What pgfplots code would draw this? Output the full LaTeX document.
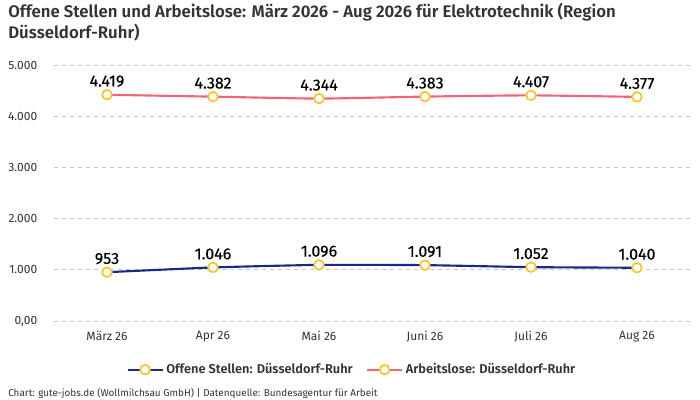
\documentclass[border=0pt]{standalone}
\usepackage{pgfplots}
\pgfplotsset{compat=1.18}
\usepackage{fontspec}
\setmainfont{Fira Sans}
\newfontfamily\titlefont{Fira Sans SemiBold}
\newfontfamily\legfont{Fira Sans SemiBold}
\definecolor{navy}{HTML}{1A2A84}
\definecolor{pinkline}{HTML}{F2647A}
\definecolor{gold}{HTML}{F7C52C}
\definecolor{txt}{HTML}{333333}
\begin{document}
\begin{tikzpicture}[x=0.75pt,y=0.75pt]
\path[use as bounding box] (0,0) rectangle (700,400);
% title
\node[anchor=north west, align=left, text=txt, font=\titlefont\fontsize{12.6}{15.5}\selectfont, inner sep=0pt]
  at (8,397) {Offene Stellen und Arbeitslose: März 2026 - Aug 2026 für Elektrotechnik (Region\\Düsseldorf-Ruhr)};
\begin{axis}[
    at={(40.5pt,59.25pt)}, anchor=south west,
    scale only axis, width=477pt, height=192pt,
    xmin=-0.5, xmax=5.5, ymin=0, ymax=5000,
    axis line style={draw=none},
    major tick length=0pt,
    xtick={0,...,5},
    xticklabels={März 26,Apr 26,Mai 26,Juni 26,Juli 26,Aug 26},
    ytick={0,1000,2000,3000,4000,5000},
    yticklabels={{0,00},{1.000},{2.000},{3.000},{4.000},{5.000}},
    ymajorgrids=true,
    grid style={dashed, gray!45, line width=0.6pt},
    tick label style={font=\fontsize{9}{10}\selectfont, text=txt},
    yticklabel style={xshift=-9pt},
    xticklabel style={yshift=-4pt},
    nodes near coords,
    point meta=explicit symbolic,
    every node near coord/.append style={font=\fontsize{12}{14}\selectfont\addfontfeature{FakeBold=0.3}, text=black, yshift=2pt},
    legend columns=2,
    legend style={at={(0.469,-0.19)}, anchor=center, draw=none, fill=none,
      font=\legfont\fontsize{9.6}{12}\selectfont, text=txt,
      /tikz/every even column/.append style={column sep=8pt}},
    legend image code/.code={
      \draw[#1, mark=none] (0cm,0cm) -- (0.92cm,0cm);
      \draw[#1, only marks] plot coordinates {(0.46cm,0cm)};
    },
  ]
\addplot[navy, line width=1.6pt, smooth, tension=0.3, mark=*, mark size=3.6pt,
  mark options={fill=white, draw=gold, line width=1.3pt}]
  coordinates {(0,953)[953] (1,1046)[1.046] (2,1096)[1.096] (3,1091)[1.091] (4,1052)[1.052] (5,1040)[1.040]};
\addlegendentry{Offene Stellen: Düsseldorf-Ruhr}
\addplot[pinkline, line width=1.6pt, smooth, tension=0.3, mark=*, mark size=3.6pt,
  mark options={fill=white, draw=gold, line width=1.3pt}]
  coordinates {(0,4419)[4.419] (1,4382)[4.382] (2,4344)[4.344] (3,4383)[4.383] (4,4407)[4.407] (5,4377)[4.377]};
\addlegendentry{Arbeitslose: Düsseldorf-Ruhr}
\end{axis}
% footer
\node[anchor=west, text=txt, font=\fontsize{7.45}{8}\selectfont, inner sep=0pt] at (8,7)
  {Chart: gute-jobs.de (Wollmilchsau GmbH) | Datenquelle: Bundesagentur für Arbeit};
\end{tikzpicture}
\end{document}
